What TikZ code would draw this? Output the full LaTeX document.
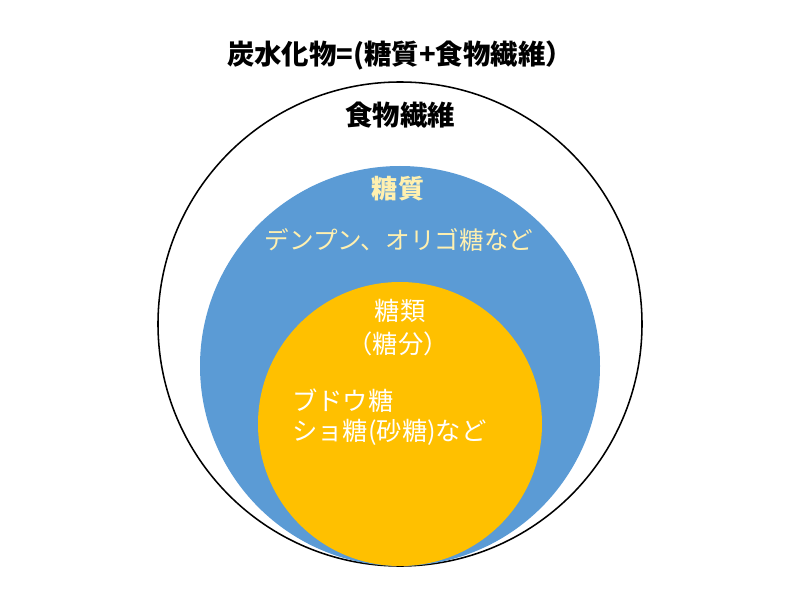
\documentclass[tikz,border=0pt]{standalone}
\usepackage{fontspec}
\usepackage{tikz}
\newfontfamily\jpfont{Noto Sans CJK JP}

\definecolor{sugarblue}{HTML}{5B9BD5}
\definecolor{sugargold}{HTML}{FFC000}
\definecolor{creamtext}{HTML}{FFF0B0}

\begin{document}
\begin{tikzpicture}[
        titlelabel/.style={font=\jpfont\bfseries\fontsize{19.5}{23}\selectfont, text=black},
        bluelabel/.style={font=\jpfont\fontsize{18}{22}\selectfont, text=creamtext},
        goldlabel/.style={font=\jpfont\fontsize{18}{22}\selectfont, text=white}
    ]
        \useasboundingbox (0,0) rectangle (20,15) ;
        
        \draw [line width=1.1pt, fill=white] (10,6.9) circle (6.05) ;
        \fill [sugarblue] (10,5.85) circle (5) ;
        \fill [sugargold] (10,4.4) circle (3.55) ;
        
        \node [titlelabel] (carb) at (10, 13.625) {炭水化物=(糖質+食物繊維）} ;
        \node [titlelabel] (fiber) at (10, 12.125) {食物繊維} ;
        
        \node [bluelabel, font=\jpfont\bfseries\fontsize{18.5}{22}\selectfont] (saccharide) at (9.95, 10.275) {糖質} ;
        \node [bluelabel, font=\jpfont\fontsize{17.5}{22}\selectfont] (starch) at (9.975, 9.0) {デンプン、オリゴ糖など} ;
        
        \node [goldlabel] (sugars) at (10, 7.225) {糖類} ;
        \node [goldlabel] (sugarcontent) at (9.95, 6.4) {（糖分）} ;
        \node [goldlabel, anchor=west, inner sep=0pt] (glucose) at (7.3, 4.975) {ブドウ糖} ;
        \node [goldlabel, anchor=west, inner sep=0pt] (sucrose) at (7.3, 4.2) {ショ糖(砂糖)など} ;
        
    \end{tikzpicture}
\end{document}
